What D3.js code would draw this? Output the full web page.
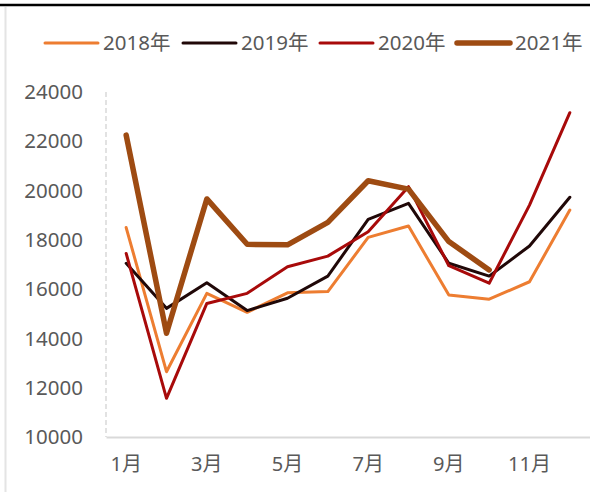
<!DOCTYPE html>
<html><head><meta charset="utf-8">
<script src="https://cdn.jsdelivr.net/npm/d3@7/dist/d3.min.js"></script>
<style>html,body{margin:0;padding:0;background:#fff;}svg{display:block;}</style>
</head><body>
<svg id="chart" width="590" height="492"></svg>
<script>
const months = ["1月","2月","3月","4月","5月","6月","7月","8月","9月","10月","11月","12月"];
const tickLabels = ["1月","3月","5月","7月","9月","11月"];
const yTicks = [10000,12000,14000,16000,18000,20000,22000,24000];
const seriesNames = ["2018年","2019年","2020年","2021年"];
const s2018 = [18500,12650,15830,15060,15850,15900,18100,18560,15760,15590,16300,19210];
const s2019 = [17050,15220,16260,15130,15630,16530,18830,19480,17050,16530,17750,19730];
const s2020 = [17450,11570,15420,15830,16910,17340,18330,20160,16950,16240,19410,23160];
const s2021 = [22250,14210,19660,17820,17800,18710,20400,20060,17930,16780];
const colors = ["#ED7D31","#200808","#A80A0A","#9E4B12"];
const widths = [3,3,3,5.5];
const allSeries = [s2018,s2019,s2020,s2021];

const svg = d3.select("#chart");
const font = "'Noto Sans','Noto Sans CJK SC',sans-serif";
const textColor = "#595959";

// frame lines
svg.append("line").attr("x1",0).attr("x2",590).attr("y1",5).attr("y2",5)
  .attr("stroke","#000").attr("stroke-width",2.5);
svg.append("line").attr("x1",5.5).attr("x2",5.5).attr("y1",7).attr("y2",492)
  .attr("stroke","#e4e4e4").attr("stroke-width",2);

const x = d3.scaleBand().domain(months).range([106, 590]);
const y = d3.scaleLinear().domain([10000,24000]).range([437, 92]);

// y axis (dashed)
svg.append("line").attr("x1",106).attr("x2",106).attr("y1",y(24000)).attr("y2",y(10000))
  .attr("stroke","#d9d9d9").attr("stroke-width",1.5).attr("stroke-dasharray","5,3");

// y labels
svg.append("g").selectAll("text").data(yTicks).join("text")
  .attr("x",83).attr("y",d=>y(d)).attr("dy","0.35em")
  .attr("text-anchor","end").attr("font-family",font).attr("font-size",20.5)
  .attr("fill",textColor).text(d=>d);

// x axis
const xAxis = d3.axisBottom(x).tickValues(tickLabels).tickSize(0).tickPadding(20);
const gx = svg.append("g").attr("transform","translate(0,437)").call(xAxis);
gx.select(".domain").attr("stroke","#d9d9d9").attr("stroke-width",2);
gx.selectAll("text").attr("font-family",font).attr("font-size",20).attr("fill",textColor);

// lines
const line = d3.line().x((d,i)=>x(months[i])+x.bandwidth()/2).y(d=>y(d));
allSeries.forEach((s,k)=>{
  svg.append("path").datum(s).attr("d",line).attr("fill","none")
    .attr("stroke",colors[k]).attr("stroke-width",widths[k])
    .attr("stroke-linejoin","round").attr("stroke-linecap","round");
});

// legend
const legendX = [45,183,320,457];
seriesNames.forEach((n,k)=>{
  const g = svg.append("g").attr("transform",`translate(${legendX[k]},43)`);
  g.append("line").attr("x1",0).attr("x2",53).attr("y1",0).attr("y2",0)
    .attr("stroke",colors[k]).attr("stroke-width",widths[k]).attr("stroke-linecap","round");
  g.append("text").attr("x",58).attr("y",0).attr("dy","0.35em")
    .attr("font-family",font).attr("font-size",20.5).attr("fill",textColor).text(n);
});
</script>
</body></html>
